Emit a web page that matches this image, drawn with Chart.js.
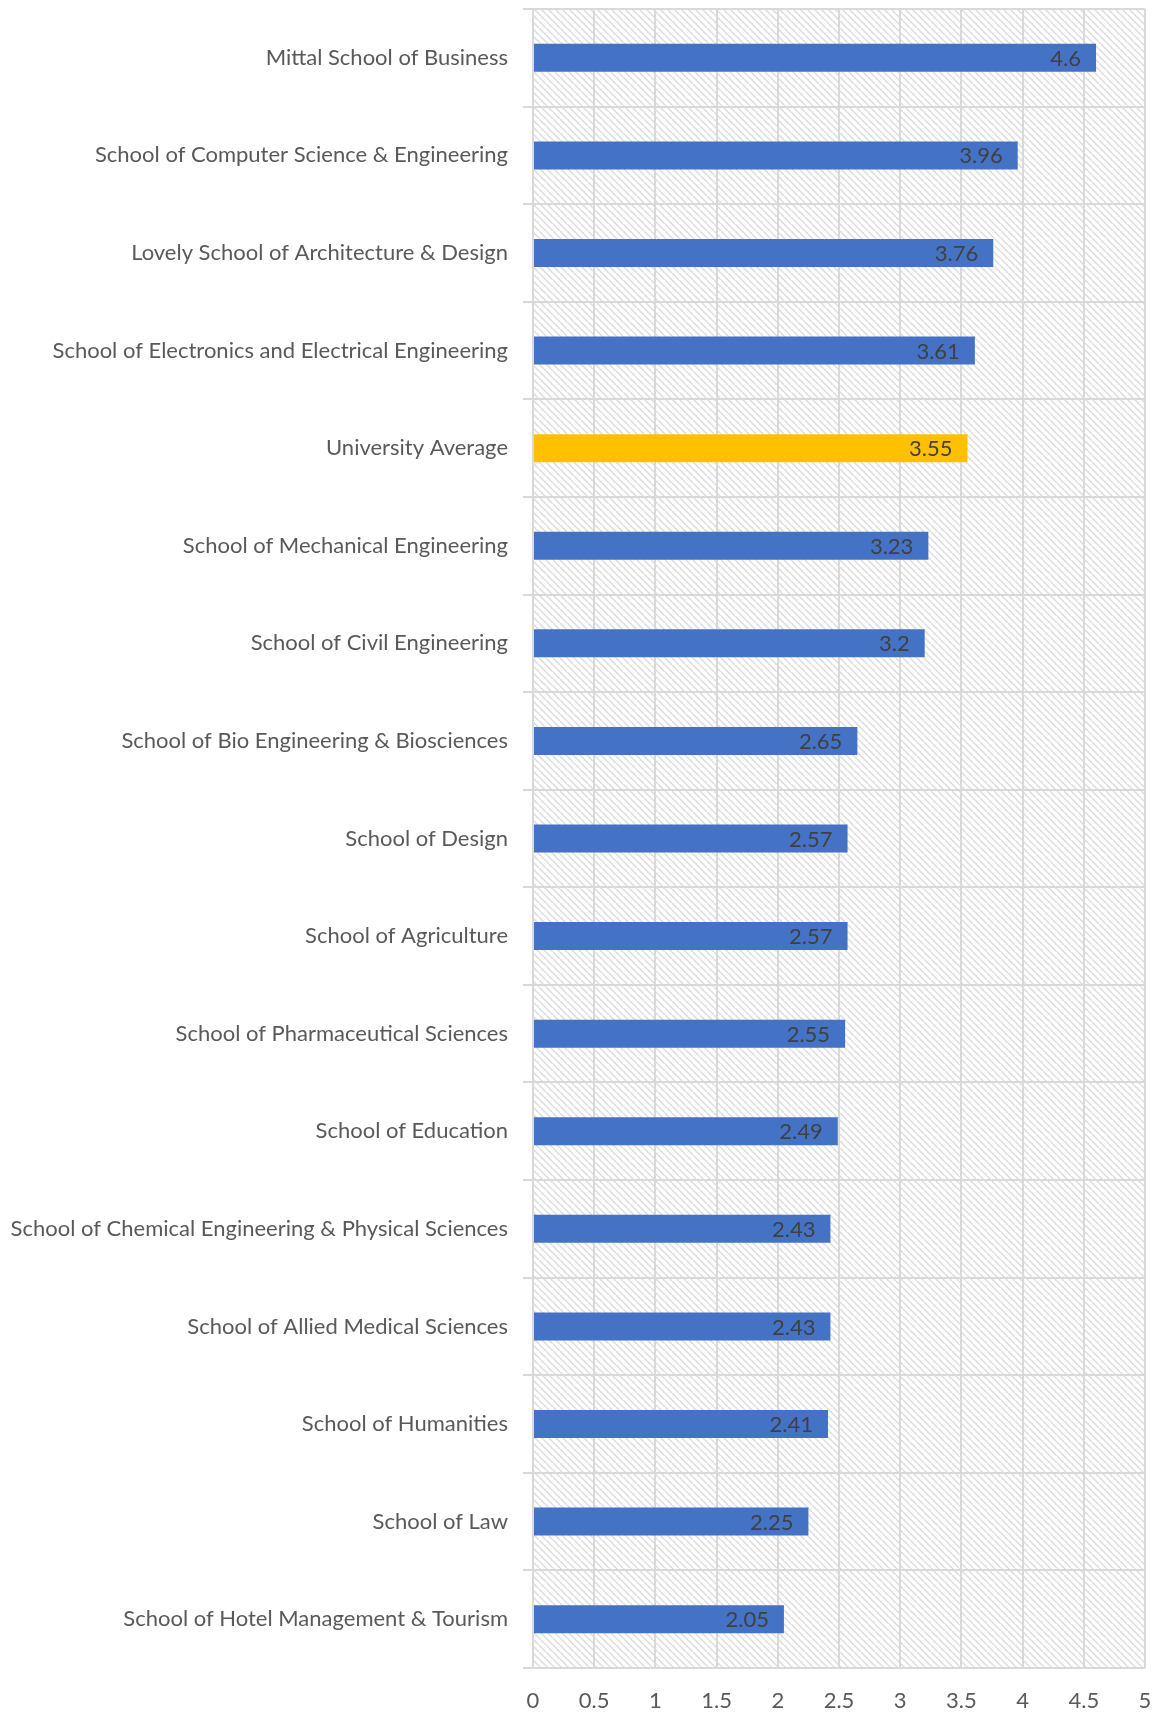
<!DOCTYPE html>
<html>
<head>
<meta charset="utf-8">
<script src="https://cdn.jsdelivr.net/npm/chart.js@4/dist/chart.umd.min.js"></script>
<style>
  html, body { margin: 0; padding: 0; background: #fff; }
  #wrap { width: 1157px; height: 1713px; position: relative; }
</style>
</head>
<body>
<div id="wrap"><canvas id="grafico"></canvas></div>
<script>
// === DATI ===
const categories = [
  'Mittal School of Business',
  'School of Computer Science & Engineering',
  'Lovely School of Architecture & Design',
  'School of Electronics and Electrical Engineering',
  'University Average',
  'School of Mechanical Engineering',
  'School of Civil Engineering',
  'School of Bio Engineering & Biosciences',
  'School of Design',
  'School of Agriculture',
  'School of Pharmaceutical Sciences',
  'School of Education',
  'School of Chemical Engineering & Physical Sciences',
  'School of Allied Medical Sciences',
  'School of Humanities',
  'School of Law',
  'School of Hotel Management & Tourism'
];
const scores = [4.6, 3.96, 3.76, 3.61, 3.55, 3.23, 3.2, 2.65, 2.57, 2.57, 2.55, 2.49, 2.43, 2.43, 2.41, 2.25, 2.05];
const xTickValues = [0, 0.5, 1, 1.5, 2, 2.5, 3, 3.5, 4, 4.5, 5];
const highlighted = 'University Average';

// === STILI ===
const BLUE = '#4472C4';
const GOLD = '#FFC000';
const GRID = '#D9D9D9';
const TEXT = '#595959';
const FONT = 'Lato';
const FONT_SIZE = 22;

// sfondo tratteggiato dell'area del grafico
const hatchPlugin = {
  id: 'hatch',
  beforeDraw(chart) {
    const { ctx, chartArea: a } = chart;
    const s = 7;
    const tile = document.createElement('canvas');
    tile.width = s; tile.height = s;
    const t = tile.getContext('2d');
    t.strokeStyle = '#DCDCDC';
    t.lineWidth = 1.5;
    t.beginPath();
    t.moveTo(0, -s); t.lineTo(s, 0);
    t.moveTo(0, 0); t.lineTo(s, s);
    t.moveTo(0, s); t.lineTo(s, 2 * s);
    t.stroke();
    ctx.save();
    ctx.fillStyle = ctx.createPattern(tile, 'repeat');
    ctx.fillRect(a.left, a.top, a.right - a.left, a.bottom - a.top);
    ctx.restore();
  }
};

// etichette dei valori dentro le barre
const valueLabels = {
  id: 'valueLabels',
  afterDatasetsDraw(chart) {
    const { ctx } = chart;
    const meta = chart.getDatasetMeta(0);
    ctx.save();
    ctx.font = FONT_SIZE + 'px ' + FONT;
    ctx.fillStyle = '#404040';
    ctx.textAlign = 'right';
    ctx.textBaseline = 'middle';
    meta.data.forEach((bar, i) => {
      ctx.fillText(String(scores[i]), bar.x - 15, bar.y + 1);
    });
    ctx.restore();
  }
};

new Chart(document.getElementById('grafico').getContext('2d'), {
  type: 'bar',
  data: {
    labels: categories,
    datasets: [{
      data: scores,
      backgroundColor: categories.map(c => c === highlighted ? GOLD : BLUE),
      borderWidth: 0,
      categoryPercentage: 1,
      barPercentage: 0.287
    }]
  },
  options: {
    indexAxis: 'y',
    responsive: true,
    maintainAspectRatio: false,
    animation: false,
    layout: { padding: { top: 9, right: 12, left: 0, bottom: 0 } },
    plugins: {
      legend: { display: false },
      tooltip: { enabled: false }
    },
    scales: {
      x: {
        min: 0,
        max: 5,
        afterBuildTicks: s => { s.ticks = xTickValues.map(v => ({ value: v })); },
        afterFit: s => { s.height = 45; s.paddingLeft = 0; s.paddingRight = 0; },
        grid: { color: GRID, lineWidth: 2, drawTicks: false },
        border: { display: false },
        ticks: {
          color: TEXT,
          font: { family: FONT, size: FONT_SIZE },
          padding: 20,
          maxRotation: 0,
          callback: v => String(v)
        }
      },
      y: {
        afterFit: s => { s.width = 533; s.paddingTop = 0; s.paddingBottom = 0; },
        grid: { color: GRID, lineWidth: 2, offset: true, tickLength: 10 },
        border: { display: false },
        ticks: { color: TEXT, font: { family: FONT, size: FONT_SIZE }, padding: 15, autoSkip: false }
      }
    }
  },
  plugins: [hatchPlugin, valueLabels]
});
</script>
</body>
</html>
